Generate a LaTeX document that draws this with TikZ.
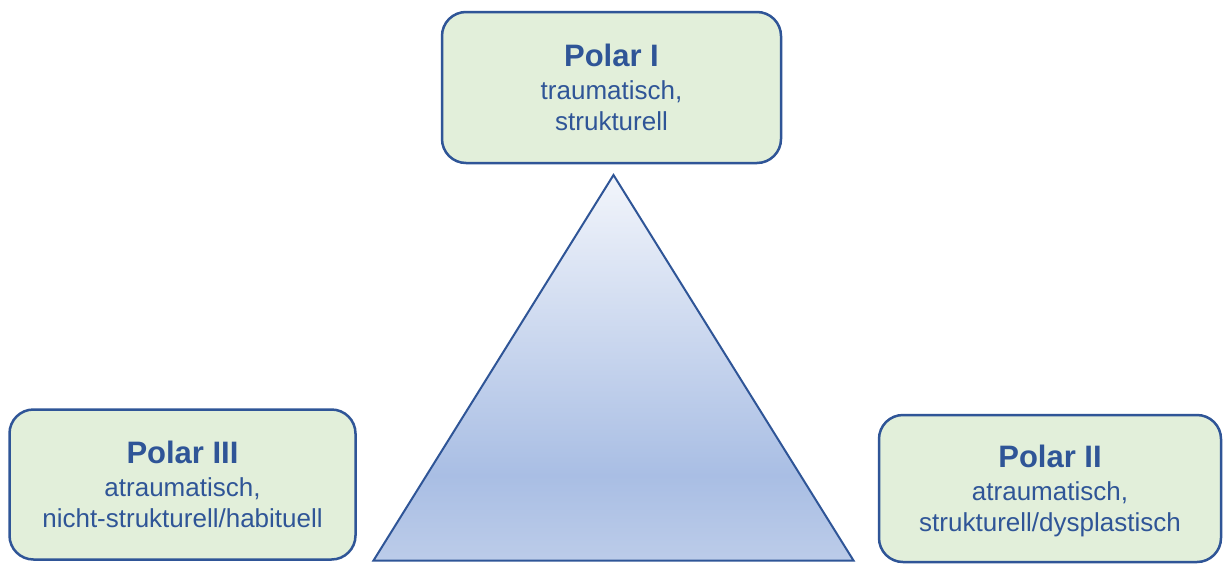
\documentclass[tikz,border=0pt]{standalone}
\usepackage{fontspec}
\setmainfont{Liberation Sans}
\definecolor{dblue}{HTML}{2F5597}
\definecolor{boxfill}{HTML}{E2EFDA}
\definecolor{tritop}{HTML}{F2F5FB}
\definecolor{trimid}{HTML}{A9BEE4}
\definecolor{tribot}{HTML}{BCCCE9}
\pgfdeclareverticalshading{trishade}{100bp}{color(0bp)=(tribot); color(25bp)=(tribot); color(36bp)=(trimid); color(75bp)=(tritop); color(100bp)=(tritop)}
\begin{document}
\begin{tikzpicture}[x=1pt,y=-1pt,
  polarbox/.style={draw=dblue, line width=2.5pt, fill=boxfill, rounded corners=24pt,
    align=center, text=dblue, inner sep=0pt,
    font=\fontsize{26}{31.5}\selectfont},
  tri/.style={draw=dblue, line width=2pt, line join=miter, shading=trishade}]
\useasboundingbox (0,0) rectangle (1226,563);
\fill[white] (0,0) rectangle (1226,563);
% triangle
\coordinate (apex) at (613.5,175);
\coordinate (bl) at (373.5,560.5);
\coordinate (br) at (853.5,560.5);
\path[tri] (apex) -- (br) -- (bl) -- cycle;
% boxes
\node[polarbox, minimum width=339pt, minimum height=151pt] (p1) at (611.5,87.5)
  {{\fontsize{31}{31}\selectfont\bfseries Polar I}\\[1pt]traumatisch,\\strukturell};
\node[polarbox, minimum width=346pt, minimum height=150pt] (p3) at (182.5,484.5)
  {{\fontsize{31}{31}\selectfont\bfseries Polar III}\\[1pt]atraumatisch,\\nicht-strukturell/habituell};
\node[polarbox, minimum width=342pt, minimum height=147pt, text depth=0pt] (p2) at (1050,488.5)
  {{\fontsize{31}{31}\selectfont\bfseries Polar II}\\[1pt]atraumatisch,\\strukturell/dysplastisch};
\end{tikzpicture}
\end{document}
